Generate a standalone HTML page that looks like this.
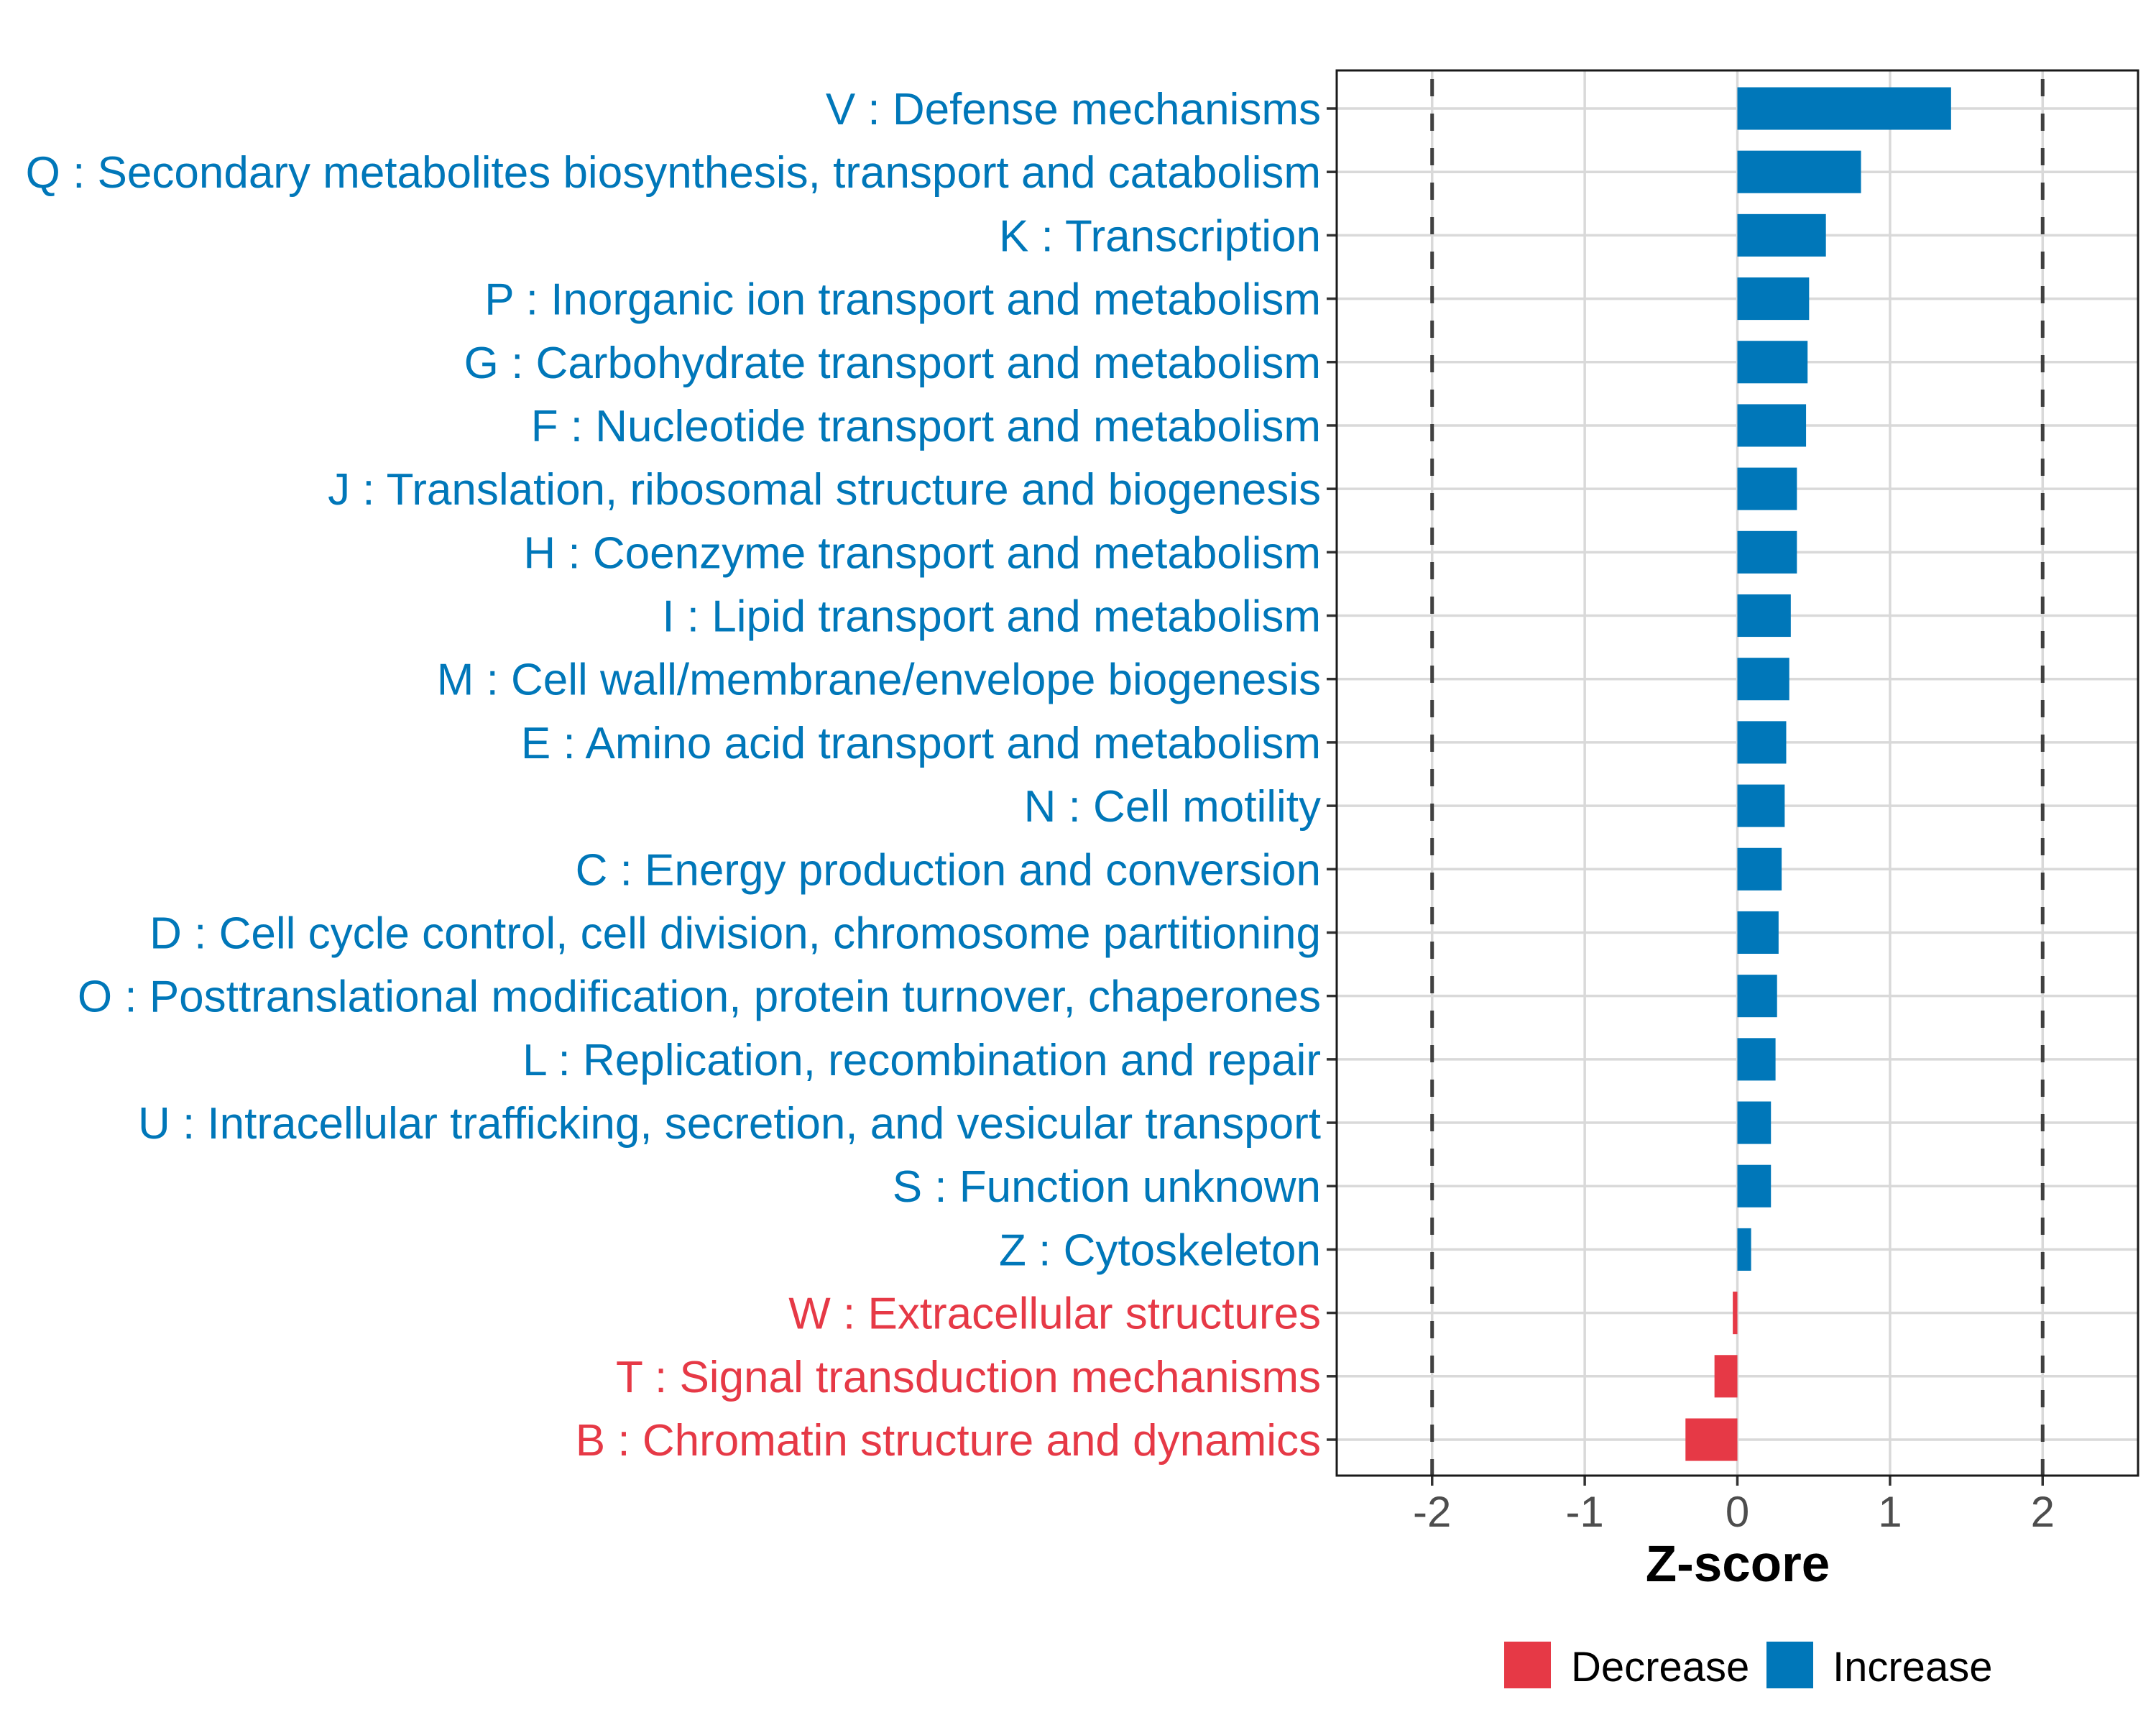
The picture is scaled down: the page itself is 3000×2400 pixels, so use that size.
<!DOCTYPE html>
<html><head><meta charset="utf-8"><style>
html,body{margin:0;padding:0;background:#fff}
svg{display:block;font-family:"Liberation Sans",Arial,sans-serif}
</style></head><body>
<svg id="chart" width="3000" height="2400" viewBox="0 0 3000 2400" xmlns="http://www.w3.org/2000/svg">
<rect x="0" y="0" width="3000" height="2400" fill="#fff"/>
<g id="grid"></g>
<g id="bars"></g>
<g id="ylabels"></g>
<g id="xaxis"></g>
<text x="2418" y="2200" text-anchor="middle" font-size="71" font-weight="bold" fill="#000">Z-score</text>
<g>
  <rect x="2093" y="2284" width="65" height="65" fill="#E63946"/>
  <text x="2186" y="2339" font-size="58" fill="#000">Decrease</text>
  <rect x="2458" y="2284" width="65" height="65" fill="#0077B9"/>
  <text x="2550" y="2339" font-size="58" fill="#000">Increase</text>
</g>
</svg>
<script>
const categories = [
"V : Defense mechanisms",
"Q : Secondary metabolites biosynthesis, transport and catabolism",
"K : Transcription",
"P : Inorganic ion transport and metabolism",
"G : Carbohydrate transport and metabolism",
"F : Nucleotide transport and metabolism",
"J : Translation, ribosomal structure and biogenesis",
"H : Coenzyme transport and metabolism",
"I : Lipid transport and metabolism",
"M : Cell wall/membrane/envelope biogenesis",
"E : Amino acid transport and metabolism",
"N : Cell motility",
"C : Energy production and conversion",
"D : Cell cycle control, cell division, chromosome partitioning",
"O : Posttranslational modification, protein turnover, chaperones",
"L : Replication, recombination and repair",
"U : Intracellular trafficking, secretion, and vesicular transport",
"S : Function unknown",
"Z : Cytoskeleton",
"W : Extracellular structures",
"T : Signal transduction mechanisms",
"B : Chromatin structure and dynamics"];
const zscores = [1.40,0.81,0.58,0.47,0.46,0.45,0.39,0.39,0.35,0.34,0.32,0.31,0.29,0.27,0.26,0.25,0.22,0.22,0.09,-0.03,-0.15,-0.34];
const xTicks = [-2,-1,0,1,2];
const xTickLabels = ["-2","-1","0","1","2"];
const thresholds = [-2,2];

const NS="http://www.w3.org/2000/svg";
const P={l:1860,t:98,r:2975,b:2053};
const xmin=-2.625,xmax=2.625;
const X=v=>P.l+(v-xmin)/(xmax-xmin)*(P.r-P.l);
const y0=151,step=(2003-151)/21;
const Y=i=>y0+i*step;
const barH=step*0.67;
function mk(tag,attrs,parent){const e=document.createElementNS(NS,tag);for(const k in attrs)e.setAttribute(k,attrs[k]);parent.appendChild(e);return e;}
const grid=document.getElementById('grid'),bars=document.getElementById('bars'),yl=document.getElementById('ylabels'),xa=document.getElementById('xaxis');
xTicks.forEach((t,i)=>{
  const l=mk('line',{x1:X(t),x2:X(t),y1:P.t,y2:P.b,stroke:'#d9d9d9','stroke-width':3.5},grid);
  
  
  const tk=mk('line',{x1:X(t),x2:X(t),y1:P.b,y2:P.b+14,stroke:'#333','stroke-width':3.5},xa);
  
  
  const tx=mk('text',{x:X(t),y:2124,'text-anchor':'middle','font-size':60,fill:'#4d4d4d'},xa);
  tx.textContent=xTickLabels[i];
  
  
});
categories.forEach((c,i)=>{
  const l=mk('line',{x1:P.l,x2:P.r,y1:Y(i),y2:Y(i),stroke:'#d9d9d9','stroke-width':3.5},grid);
  
  
});
thresholds.forEach(t=>{
  const l=mk('line',{x1:X(t),x2:X(t),y1:P.t,y2:P.b,stroke:'#404040','stroke-width':5,'stroke-dasharray':'24 24','stroke-dashoffset':'-12'},grid);
  
  
});
categories.forEach((c,i)=>{
  const v=zscores[i];
  const col=v<0?'#E63946':'#0077B9';
  const r=mk('rect',{x:Math.min(X(0),X(v)),y:Y(i)-barH/2,width:Math.abs(X(v)-X(0)),height:barH,fill:col},bars);
  
  
  const tk=mk('line',{x1:P.l-14,x2:P.l,y1:Y(i),y2:Y(i),stroke:'#333','stroke-width':3.5},yl);
  
  
  const t=mk('text',{x:1838,y:Y(i)+22,'text-anchor':'end','font-size':62,fill:col},yl);
  t.textContent=c;
  
  
});
const fr=mk('rect',{x:P.l,y:P.t,width:P.r-P.l,height:P.b-P.t,fill:'none',stroke:'#1a1a1a','stroke-width':3},document.getElementById('chart'));


</script>
</body></html>
